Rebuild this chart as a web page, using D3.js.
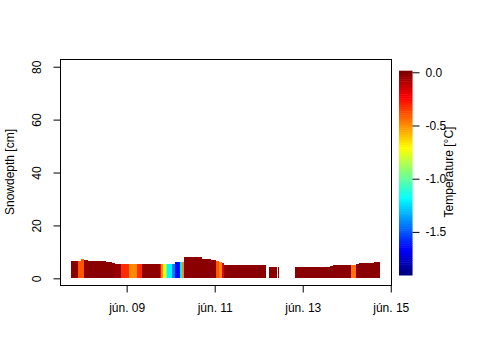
<!DOCTYPE html>
<html>
<head>
<meta charset="utf-8">
<script src="https://cdn.jsdelivr.net/npm/d3@7"></script>
<style>
  body { margin: 0; background: #fff; }
  text { font-family: "Liberation Sans", Arial, sans-serif; font-size: 12px; fill: #000; }
</style>
</head>
<body>
<svg id="chart" width="480" height="360"></svg>
<script>
// snow depth runs: start, end, depth [cm], air temperature [°C]
const runStart = ["06-07 17:30","06-07 21:30","06-07 23:00","06-08 00:30","06-08 03:00","06-08 13:00","06-08 16:00","06-08 17:30",
  "06-08 21:00","06-09 01:30","06-09 05:30","06-09 08:30","06-09 18:00","06-09 19:00","06-09 20:00","06-09 21:30","06-09 22:00",
  "06-10 00:30","06-10 02:30","06-10 05:00","06-10 06:00","06-10 07:00","06-10 12:00","06-10 17:00","06-10 22:00","06-11 00:30",
  "06-11 02:30","06-11 04:00","06-11 05:00","06-12 05:30","06-12 10:30","06-12 20:00","06-12 23:30","06-13 08:30","06-13 15:00",
  "06-13 16:30","06-14 02:30","06-14 05:00","06-14 06:30","06-14 15:00"];
const runEnd = ["06-07 21:30","06-07 23:00","06-08 00:30","06-08 03:00","06-08 13:00","06-08 16:00","06-08 17:30","06-08 21:00",
  "06-09 01:30","06-09 05:30","06-09 08:30","06-09 18:00","06-09 19:00","06-09 20:00","06-09 21:30","06-09 22:00","06-10 00:30",
  "06-10 02:30","06-10 05:00","06-10 06:00","06-10 07:00","06-10 12:00","06-10 17:00","06-10 22:00","06-11 00:30","06-11 02:30",
  "06-11 04:00","06-11 05:00","06-12 04:00","06-12 10:00","06-12 11:00","06-12 23:30","06-13 08:30","06-13 15:00","06-13 16:30",
  "06-14 02:30","06-14 05:00","06-14 06:30","06-14 15:00","06-14 18:00"];
const snowDepth = [6.5, 6.5, 7.3, 7.0, 6.5, 6.3, 5.9, 5.4,
  5.4, 5.4, 5.4, 5.4, 5.4, 5.4, 5.4, 5.4, 5.4,
  5.4, 6.2, 6.2, 6.2, 8.2, 7.9, 7.3, 6.9, 6.4,
  6.0, 5.7, 5.0, 4.4, 4.4, 4.4, 4.2, 4.4, 4.8,
  5.1, 5.1, 5.4, 5.7, 6.2];
const airTemp = [-0.02, -0.4, -0.4, -0.03, -0.02, -0.02, -0.03, -0.04,
  -0.32, -0.5, -0.32, -0.03, -0.25, -0.5, -0.75, -0.95, -1.2,
  -1.42, -1.65, -1.2, -0.5, -0.02, -0.02, -0.02, -0.02, -0.4,
  -0.5, -0.2, -0.02, -0.02, -0.02, -0.02, -0.02, -0.02, -0.02,
  -0.02, -0.45, -0.03, -0.02, -0.02];

const xTicks = ["06-09", "06-11", "06-13", "06-15"];
const yTicks = [0, 20, 40, 60, 80];
const tempTicks = [0, -0.5, -1, -1.5];
const tempTickLabels = ["0.0", "-0.5", "-1.0", "-1.5"];
const jetColors = ["#00007F", "blue", "#007FFF", "cyan", "#7FFF7F", "yellow", "#FF7F00", "red", "#7F0000"];

const svg = d3.select("#chart");
const parseTime = d3.timeParse("%m-%d %H:%M");
const parseDay = d3.timeParse("%m-%d");

const hu = d3.timeFormatLocale({
  dateTime: "%Y. %B %-e., %A %X", date: "%Y. %m. %d.", time: "%H:%M:%S",
  periods: ["de.", "du."],
  days: ["vasárnap", "hétfő", "kedd", "szerda", "csütörtök", "péntek", "szombat"],
  shortDays: ["V", "H", "K", "Sze", "Cs", "P", "Szo"],
  months: ["január", "február", "március", "április", "május", "június", "július", "augusztus", "szeptember", "október", "november", "december"],
  shortMonths: ["jan.", "febr.", "márc.", "ápr.", "máj.", "jún.", "júl.", "aug.", "szept.", "okt.", "nov.", "dec."]
});

const runs = runStart.map((s, i) => ({
  start: parseTime(s), end: parseTime(runEnd[i]), depth: snowDepth[i], temp: airTemp[i]
}));

const plotL = 60, plotR = 392, plotT = 59.3, plotB = 286;

const x = d3.scaleTime()
  .domain([parseTime("06-07 11:40"), parseTime("06-15 00:40")])
  .range([plotL, plotR]);

const y = d3.scaleLinear()
  .domain([-2.9, 82.8])
  .range([plotB, plotT]);

const tMin = -1.9, tMax = 0;
const color = d3.scaleLinear()
  .domain(jetColors.map((c, i) => tMin + i * (tMax - tMin) / (jetColors.length - 1)))
  .range(jetColors)
  .clamp(true);

// bars
svg.append("g")
  .selectAll("rect")
  .data(runs)
  .join("rect")
  .attr("x", d => x(d.start))
  .attr("width", d => x(d.end) - x(d.start))
  .attr("y", d => y(d.depth))
  .attr("height", d => y(0) - y(d.depth))
  .attr("fill", d => color(d.temp))
  .attr("shape-rendering", "crispEdges");

// box
svg.append("rect")
  .attr("x", plotL + 0.5).attr("y", 59.5)
  .attr("width", plotR - plotL - 1).attr("height", plotB - 60)
  .attr("fill", "none").attr("stroke", "#000");

// y axis
const yAxis = svg.append("g")
  .attr("transform", `translate(${plotL + 0.5},0)`)
  .call(d3.axisLeft(y).tickValues(yTicks).tickSize(7));
yAxis.select(".domain").remove();
yAxis.selectAll("line").attr("stroke", "#000");
yAxis.selectAll("text")
  .attr("x", null).attr("dy", null)
  .attr("text-anchor", "middle")
  .attr("transform", "translate(-19.5,0) rotate(-90)");
yAxis.attr("font-family", null).attr("font-size", null);

// x axis
const fmt = hu.format("%b %d");
const xAxis = svg.append("g")
  .attr("transform", `translate(0,${plotB - 0.5})`)
  .call(d3.axisBottom(x).tickValues(xTicks.map(parseDay)).tickFormat(fmt).tickSize(7).tickPadding(19));
xAxis.select(".domain").remove();
xAxis.selectAll("line").attr("stroke", "#000");
xAxis.selectAll("text").attr("dy", null);
xAxis.attr("font-family", null).attr("font-size", null);

svg.append("text")
  .attr("transform", "translate(14,172) rotate(-90)")
  .attr("text-anchor", "middle")
  .text("Snowdepth [cm]");

// colour bar
const barX = 399, barW = 13.5;
const ty = d3.scaleLinear().domain([0.015, -1.905]).range([70.7, 275]);
const steps = d3.range(0, 96);
const stepH = (275 - 70.7) / steps.length;
svg.append("g")
  .selectAll("rect")
  .data(steps)
  .join("rect")
  .attr("x", barX)
  .attr("y", i => 70.7 + i * stepH)
  .attr("width", barW)
  .attr("height", stepH + 0.5)
  .attr("fill", i => color(ty.invert(70.7 + (i + 0.5) * stepH)));

const tAxis = svg.append("g")
  .attr("transform", `translate(${barX + barW},0)`)
  .call(d3.axisRight(ty).tickValues(tempTicks).tickFormat((d, i) => tempTickLabels[i]).tickSize(7).tickPadding(6));
tAxis.select(".domain").remove();
tAxis.selectAll("line").attr("stroke", "#000");
tAxis.attr("font-family", null).attr("font-size", null);

svg.append("text")
  .attr("transform", "translate(453,172) rotate(-90)")
  .attr("text-anchor", "middle")
  .text("Temperature [°C]");
</script>
</body>
</html>
